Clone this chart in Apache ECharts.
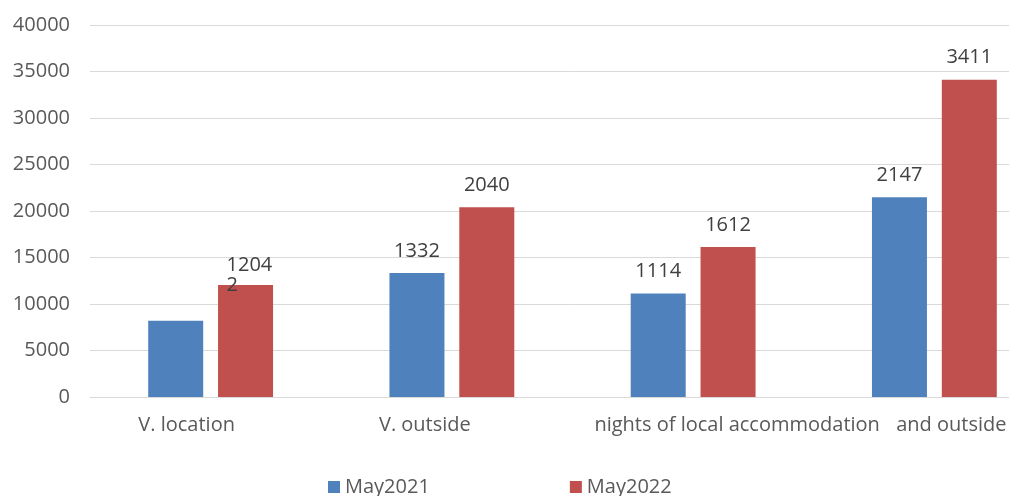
<!DOCTYPE html>
<html>
<head>
<meta charset="utf-8">
<script src="https://cdn.jsdelivr.net/npm/echarts@6/dist/echarts.min.js"></script>
<style>html,body{margin:0;padding:0;background:#fff;overflow:hidden;width:1009px;height:496px}#c{width:1055px;height:496px}</style>
</head>
<body>
<div id="c"></div>
<script>
const categories = ['V. location', 'V. outside', 'nights of local accommodation', 'and outside'];
const seriesNames = ['May2021', 'May2022'];
const may2021 = [8200, 13320, 11140, 21470];
const may2022 = [12042, 20400, 16120, 34110];
const labels2021 = ['', '1332', '1114', '2147'];
const labels2022 = ['1204\n2', '2040', '1612', '3411'];
const yTicks = { min: 0, max: 40000, interval: 5000 };

const FONT = 'Open Sans';
const chart = echarts.init(document.getElementById('c'), null, { renderer: 'canvas' });

const labelShift = [
  { padding: [0, 48, 0, 0] },
  { padding: [0, 54, 0, 0] },
  { padding: [0, 0, 0, 88] },
  { padding: [0, 0, 0, 34] }
];
const rich = {};
labelShift.forEach((s, i) => { rich['c' + i] = Object.assign({ fontFamily: FONT, fontSize: 20, color: '#595959' }, s); });

function mkData(vals, labs, special) {
  return vals.map((v, i) => {
    const item = { value: v, label: { formatter: labs[i] } };
    if (special && special[i]) Object.assign(item.label, special[i]);
    return item;
  });
}

chart.setOption({
  animation: false,
  textStyle: { fontFamily: FONT },
  grid: { left: 90, right: 0, top: 25, bottom: 99 },
  legend: {
    data: seriesNames,
    left: 323,
    top: 472,
    itemWidth: 12,
    itemHeight: 12,
    itemGap: 140,
    icon: 'rect',
    textStyle: { fontFamily: FONT, fontSize: 20, color: '#595959' }
  },
  xAxis: {
    type: 'category',
    data: categories,
    axisLine: { lineStyle: { color: '#d9d9d9', width: 1 } },
    axisTick: { show: false },
    axisLabel: {
      interval: 0,
      margin: 18,
      formatter: (v, i) => '{c' + i + '|' + v + '}',
      rich: rich
    }
  },
  yAxis: {
    type: 'value',
    min: yTicks.min,
    max: yTicks.max,
    interval: yTicks.interval,
    axisLine: { show: false },
    axisTick: { show: false },
    splitLine: { lineStyle: { color: '#d9d9d9', width: 1 } },
    axisLabel: { margin: 20, fontFamily: FONT, fontSize: 20, color: '#595959', formatter: v => String(v) }
  },
  series: [
    {
      name: seriesNames[0],
      type: 'bar',
      barWidth: 55,
      barGap: '27%',
      itemStyle: { color: '#4f81bd' },
      label: { show: true, position: 'top', distance: 12, fontFamily: FONT, fontSize: 20, color: '#404040' },
      data: mkData(may2021, labels2021)
    },
    {
      name: seriesNames[1],
      type: 'bar',
      barWidth: 55,
      itemStyle: { color: '#c0504d' },
      label: { show: true, position: 'top', distance: 12, fontFamily: FONT, fontSize: 20, color: '#404040', lineHeight: 20 },
      data: mkData(may2022, labels2022, [{ align: 'left', distance: -10, offset: [-19, 0] }])
    }
  ]
});
</script>
</body>
</html>
